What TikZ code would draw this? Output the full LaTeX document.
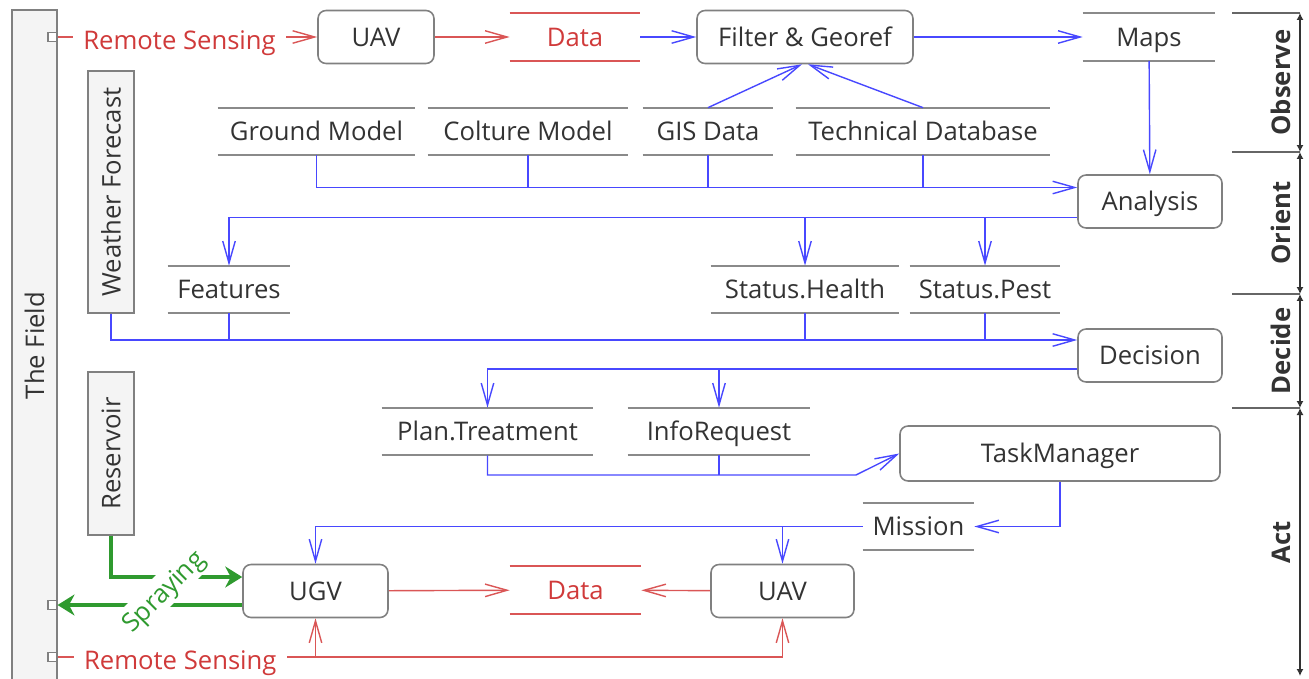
\documentclass[tikz,border=0pt]{standalone}
\usepackage{fontspec}
\setmainfont{Open Sans}
\usetikzlibrary{arrows.meta}

\definecolor{ink}{HTML}{333333}
\definecolor{boxgray}{HTML}{808080}
\definecolor{panelfill}{HTML}{F4F4F4}
\definecolor{storegray}{HTML}{8A8A8A}
\definecolor{flowblue}{HTML}{4848FF}
\definecolor{sensered}{HTML}{DA5656}
\definecolor{sensetext}{HTML}{D03A3A}
\definecolor{spraygreen}{HTML}{2F9A2F}

% data store: text between a top and a bottom rule
% #1 name, #2 x, #3 y, #4 width (cm), #5 text, #6 text colour, #7 rule colour
\newcommand\storenode[7]{%
  \node[store, minimum width=#4cm, text=#6] (#1) at (#2,#3) {#5};
  \draw[storeline, draw=#7] (#1.north west) -- (#1.north east)
                            (#1.south west) -- (#1.south east);}

\begin{document}
\begin{tikzpicture}[x=0.02cm, y=-0.02cm,
  font=\fontsize{14.6}{17}\selectfont, text=ink,
  every node/.style={text height=10.4pt, text depth=0pt},
  panel/.style={draw=boxgray, fill=panelfill, line width=1pt, inner sep=0,
                text height=, text depth=},
  port/.style={draw=boxgray, fill=white, minimum size=0.18cm, inner sep=0, line width=0.6pt,
               text height=, text depth=},
  box/.style={draw=boxgray, fill=white, rounded corners=0.16cm, line width=0.9pt,
              minimum height=1.06cm, inner sep=0},
  store/.style={minimum height=0.94cm, inner sep=0},
  storeline/.style={line width=1.1pt},
  conn/.style={line width=0.8pt, -{Straight Barb[length=0.44cm,width=0.25cm]}},
  flow/.style={conn, draw=flowblue},
  flowline/.style={line width=0.8pt, draw=flowblue},
  sense/.style={conn, draw=sensered},
  rslabel/.style={fill=white, text=sensetext, inner xsep=0.2cm, inner ysep=0, yshift=-0.06cm},
  spray/.style={draw=spraygreen, line width=2.8pt, -{Stealth[length=0.34cm,width=0.42cm]}},
  spraylabel/.style={fill=white, text=spraygreen, inner xsep=0.05cm, inner ysep=0.14cm},
  tick/.style={draw=ink!75, line width=0.7pt},
  span/.style={draw=ink, line width=0.7pt, {Latex[length=0.14cm,width=0.14cm]}-{Latex[length=0.14cm,width=0.14cm]}},
  phase/.style={font=\fontsize{14.6}{17}\selectfont\bfseries, text=ink, rotate=90,
                anchor=south, inner sep=0.17cm}]

\useasboundingbox (0,0) rectangle (1309,679);

% ---- side panels ----
\node[panel, minimum width=0.9cm, minimum height=13.42cm] (field) at (34.5,345.5) {\rotatebox{90}{The Field}};
\node[panel, minimum width=0.92cm, minimum height=4.84cm] (wf) at (111,192) {\rotatebox{90}{Weather Forecast}};
\node[panel, minimum width=0.92cm, minimum height=3.26cm] (res) at (111,453.5) {\rotatebox{90}{Reservoir}};

\node[port] (p1) at (52.5,37) {};
\node[port] (p2) at (52.5,605) {};
\node[port] (p3) at (52.5,657) {};

% ---- processes ----
\node[box, minimum width=2.32cm] (uav1) at (376,37) {UAV};
\node[box, minimum width=4.32cm] (filter) at (805,37) {Filter \& Georef};
\node[box, minimum width=2.88cm] (an) at (1150,201.5) {Analysis};
\node[box, minimum width=2.88cm] (dec) at (1150,355.5) {Decision};
\node[box, minimum width=6.4cm, minimum height=1.1cm] (tm) at (1060,453.5) {TaskManager};
\node[box, minimum width=2.9cm] (ugv) at (315.5,591) {UGV};
\node[box, minimum width=2.86cm] (uav2) at (782.5,591) {UAV};

% ---- data stores ----
\storenode{data1}{575}{37}{2.6}{Data}{sensetext}{sensered}
\storenode{maps}{1149}{37}{2.64}{Maps}{ink}{storegray}
\storenode{gm}{316.5}{131.5}{3.94}{Ground Model}{ink}{storegray}
\storenode{cm}{528}{131.5}{4.0}{Colture Model}{ink}{storegray}
\storenode{gis}{708}{131.5}{2.6}{GIS Data}{ink}{storegray}
\storenode{tech}{923}{131.5}{5.08}{Technical Database}{ink}{storegray}
\storenode{feat}{229}{289.5}{2.44}{Features}{ink}{storegray}
\storenode{sh}{805}{289.5}{3.76}{Status.Health}{ink}{storegray}
\storenode{sp}{985}{289.5}{3.0}{Status.Pest}{ink}{storegray}
\storenode{pt}{487.5}{431.5}{4.22}{Plan.Treatment}{ink}{storegray}
\storenode{ir}{719}{431.5}{3.64}{InfoRequest}{ink}{storegray}
\storenode{mis}{918.5}{526.5}{2.22}{Mission}{ink}{storegray}
\storenode{data2}{575.5}{590}{2.62}{Data}{sensetext}{sensered}

% ---- observe ----
\draw[sense] (p1) -- node[rslabel, pos=0.47] {Remote Sensing} (uav1);
\draw[sense] (uav1) -- (data1);
\draw[flow] (data1) -- (filter);
\draw[flow] (filter) -- (maps);
\draw[flow] (gis.north) -- ([xshift=-0.06cm]filter.south);
\draw[flow] (tech.north) -- ([xshift=0.06cm]filter.south);
\draw[flow] (maps) -- (an);

% ---- orient ----
\coordinate (in1) at ([yshift=0.28cm]an.west);
\draw[flow] (gm.south) |- (in1);
\draw[flowline] (cm.south) -- (cm.south |- in1);
\draw[flowline] (gis.south) -- (gis.south |- in1);
\draw[flowline] (tech.south) -- (tech.south |- in1);
\coordinate (out1) at ([yshift=-0.32cm]an.west);
\draw[flow] (out1) -| (feat.north);
\draw[flow] (sh.north |- out1) -- (sh.north);
\draw[flow] (sp.north |- out1) -- (sp.north);

% ---- decide ----
\coordinate (in2) at ([yshift=0.31cm]dec.west);
\draw[flow] (wf.south) |- (in2);
\draw[flowline] (feat.south) -- (feat.south |- in2);
\draw[flowline] (sh.south) -- (sh.south |- in2);
\draw[flowline] (sp.south) -- (sp.south |- in2);
\coordinate (out2) at ([yshift=-0.27cm]dec.west);
\draw[flow] (out2) -| (pt.north);
\draw[flow] (ir.north |- out2) -- (ir.north);

% ---- act ----
\coordinate (bend) at (856,475);
\draw[flow] (pt.south) |- (bend) -- (tm.west);
\draw[flowline] (ir.south) -- (ir.south |- bend);
\draw[flow] (tm.south) |- (mis.east);
\draw[flow] (mis.west) -| (ugv.north);
\draw[flow] (uav2.north |- mis.west) -- (uav2.north);
\draw[sense] (ugv) -- (data2);
\draw[sense] (uav2) -- (data2);

\coordinate (rsj) at (ugv.south |- p3);
\draw[sense] (p3) -- node[rslabel, pos=0.476] {Remote Sensing} (rsj) -| (uav2.south);
\draw[sense] (rsj) -- (ugv.south);

\draw[spray] (res.south) |- ([yshift=0.28cm]ugv.west);
\draw[spray] (ugv.west |- p2) -- (p2);
\node[spraylabel, rotate=45] (spr) at (163,591) {Spraying};

% ---- OODA phases ----
\coordinate (k0) at (1300,13);
\coordinate (k1) at (1300,152);
\coordinate (k2) at (1300,294);
\coordinate (k3) at (1300,408);
\coordinate (k4) at (1300,676);
\foreach \k in {k0,k1,k2,k3} \draw[tick] (\k) -- ++(-68,0);
\draw[span] (k0) -- node[phase] (ph1) {Observe} (k1);
\draw[span] (k1) -- node[phase] (ph2) {Orient} (k2);
\draw[span] (k2) -- node[phase] (ph3) {Decide} (k3);
\draw[span] (k3) -- node[phase] (ph4) {Act} (k4);
\end{tikzpicture}
\end{document}
